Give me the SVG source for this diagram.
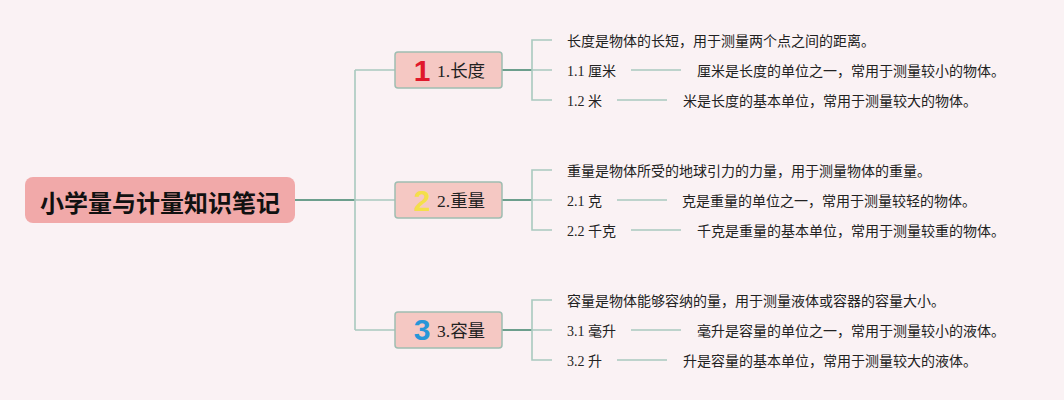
<svg xmlns="http://www.w3.org/2000/svg" width="1064" height="400" viewBox="0 0 1064 400">
<style>
.bg{fill:#faf2f4}
.root{fill:#f1a9a9}
.rt{font-family:"Noto Sans CJK SC",sans-serif;font-weight:bold;font-size:24px;fill:#111}
.box{fill:#f5c8c3;stroke:#9fbdb1;stroke-width:1.5}
.bt{font-family:"Liberation Serif","Noto Sans CJK SC",serif;font-size:17.5px;fill:#222}
.ic{font-family:"Liberation Sans","DejaVu Sans",sans-serif;font-weight:bold;font-size:30px}
.t{font-family:"Liberation Serif","Noto Sans CJK SC",serif;font-size:14px;fill:#222}
.dk{stroke:#6c9f8d;stroke-width:2.2;fill:none}
.lt{stroke:#a9c9bf;stroke-width:1.6;fill:none}
</style>
<rect class="bg" x="0" y="0" width="1064" height="400"/>
<g id="connectors">
<path class="dk" d="M295 200H355"/>
<path class="lt" d="M355 70V330M355 70H395M355 200H395M355 330H395"/>
<path class="dk" d="M502 70H532M502 200H532M502 330H532"/>
<path class="lt" d="M552 40H532V100H552M532 70H552"/>
<path class="lt" d="M552 170H532V230H552M532 200H552"/>
<path class="lt" d="M552 300H532V360H552M532 330H552"/>
<path class="lt" d="M631 70H681M617 100H667M617 200H667M631 230H681M631 330H681M617 360H667"/>
</g>
<g id="root">
<rect class="root" x="25" y="177" width="270" height="46" rx="8"/>
<text class="rt" x="160" y="201" text-anchor="middle" dominant-baseline="central">小学量与计量知识笔记</text>
</g>
<g id="b1">
<rect class="box" x="395" y="52" width="107" height="36" rx="3"/>
<text class="ic" x="422" y="81" text-anchor="middle" fill="#e0192c">1</text>
<text class="bt" x="437" y="71" dominant-baseline="central">1.长度</text>
</g>
<g id="b2">
<rect class="box" x="395" y="182" width="107" height="36" rx="3"/>
<text class="ic" x="422" y="211" text-anchor="middle" fill="#f4df4a">2</text>
<text class="bt" x="437" y="201" dominant-baseline="central">2.重量</text>
</g>
<g id="b3">
<rect class="box" x="395" y="312" width="107" height="36" rx="3"/>
<text class="ic" x="422" y="340" text-anchor="middle" fill="#2796d8">3</text>
<text class="bt" x="437" y="331" dominant-baseline="central">3.容量</text>
</g>
<g id="c1">
<text class="t" x="567" y="41" dominant-baseline="central">长度是物体的长短，用于测量两个点之间的距离。</text>
<text class="t" x="567" y="71" dominant-baseline="central">1.1 厘米</text>
<text class="t" x="697" y="71" dominant-baseline="central">厘米是长度的单位之一，常用于测量较小的物体。</text>
<text class="t" x="567" y="101" dominant-baseline="central">1.2 米</text>
<text class="t" x="683" y="101" dominant-baseline="central">米是长度的基本单位，常用于测量较大的物体。</text>
</g>
<g id="c2">
<text class="t" x="567" y="171" dominant-baseline="central">重量是物体所受的地球引力的力量，用于测量物体的重量。</text>
<text class="t" x="567" y="201" dominant-baseline="central">2.1 克</text>
<text class="t" x="682" y="201" dominant-baseline="central">克是重量的单位之一，常用于测量较轻的物体。</text>
<text class="t" x="567" y="231" dominant-baseline="central">2.2 千克</text>
<text class="t" x="697" y="231" dominant-baseline="central">千克是重量的基本单位，常用于测量较重的物体。</text>
</g>
<g id="c3">
<text class="t" x="567" y="301" dominant-baseline="central">容量是物体能够容纳的量，用于测量液体或容器的容量大小。</text>
<text class="t" x="567" y="331" dominant-baseline="central">3.1 毫升</text>
<text class="t" x="697" y="331" dominant-baseline="central">毫升是容量的单位之一，常用于测量较小的液体。</text>
<text class="t" x="567" y="361" dominant-baseline="central">3.2 升</text>
<text class="t" x="683" y="361" dominant-baseline="central">升是容量的基本单位，常用于测量较大的液体。</text>
</g>
</svg>
